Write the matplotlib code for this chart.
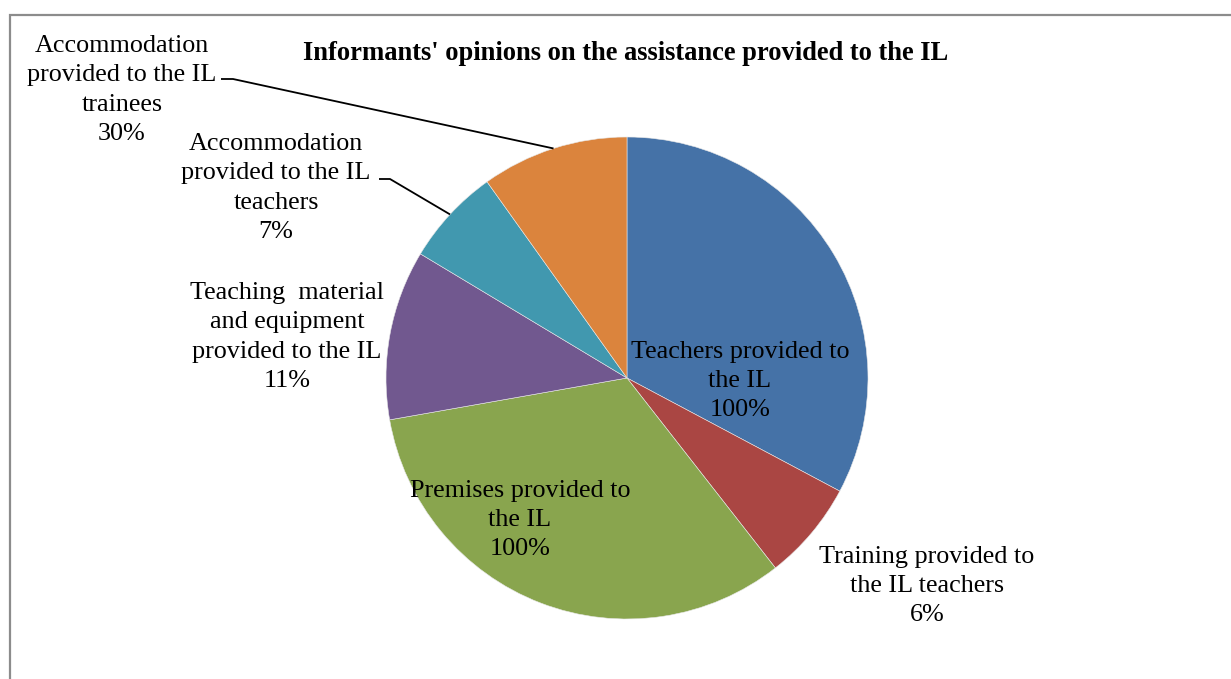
import numpy as np
import matplotlib
matplotlib.use("Agg")
import matplotlib.pyplot as plt
from matplotlib.patches import Rectangle

plt.rcParams['font.family'] = ['Liberation Serif', 'DejaVu Serif']

# slice shares as read from the drawn wedges, clockwise from 12 o'clock
categories = [
    "Teachers provided to\nthe IL",
    "Training provided to\nthe IL teachers",
    "Premises provided to\nthe IL",
    "Teaching  material\nand equipment\nprovided to the IL",
    "Accommodation\nprovided to the IL\nteachers",
    "Accommodation\nprovided to the IL\ntrainees",
]
slice_share = [118, 24, 118, 41, 23.5, 35.5]
value_labels = ["100%", "6%", "100%", "11%", "7%", "30%"]
colors = ["#4572A7", "#AA4643", "#89A54E", "#71588F", "#4198AF", "#DB843D"]

W, H = 1231, 679
fig = plt.figure(figsize=(W / 100, H / 100), dpi=100)
ax = fig.add_axes([0, 0, 1, 1])
ax.set_xlim(0, W)
ax.set_ylim(0, H)
ax.set_aspect('equal')
ax.axis('off')

cx, cy, r = 627, H - 378, 241
wedges, _ = ax.pie(slice_share, colors=colors, startangle=90, counterclock=False,
                   center=(cx, cy), radius=r, frame=True,
                   wedgeprops=dict(linewidth=0.4, edgecolor='#e8e8e8'))
ax.set_xlim(0, W)
ax.set_ylim(0, H)
ax.axis('off')

fs = 18.8
# label block centres (pixel coords from top)
label_pos = [(740, 381), (927, 586), (520, 520), (287, 337), (276, 188), (122, 90)]
for lab, val, (x, y) in zip(categories, value_labels, label_pos):
    ax.text(x, H - y, lab + "\n" + val, ha='center', va='center', fontsize=fs,
            linespacing=1.42, color='black')

# leader lines for the two callouts
leaders = {5: (221, 233, 79), 4: (379, 390, 179)}
for i, (x0, x1, y) in leaders.items():
    w = wedges[i]
    ang = np.deg2rad((w.theta1 + w.theta2) / 2)
    px, py = cx + r * np.cos(ang), cy + r * np.sin(ang)
    ax.plot([x0, x1, px], [H - y, H - y, py], color='black', lw=1.3,
            solid_capstyle='butt')

ax.text(626, H - 53, "Informants' opinions on the assistance provided to the IL",
        ha='center', va='center', fontsize=19.1, fontweight='bold')

# chart border (runs off the right and bottom edges)
fig.patches.append(Rectangle((9.5 / W, -0.1), 1.2, (H - 15 + 0.1 * H) / H,
                             transform=fig.transFigure, fill=False,
                             edgecolor='#8c8c8c', lw=1.6))

fig.savefig("out.png", dpi=100)
